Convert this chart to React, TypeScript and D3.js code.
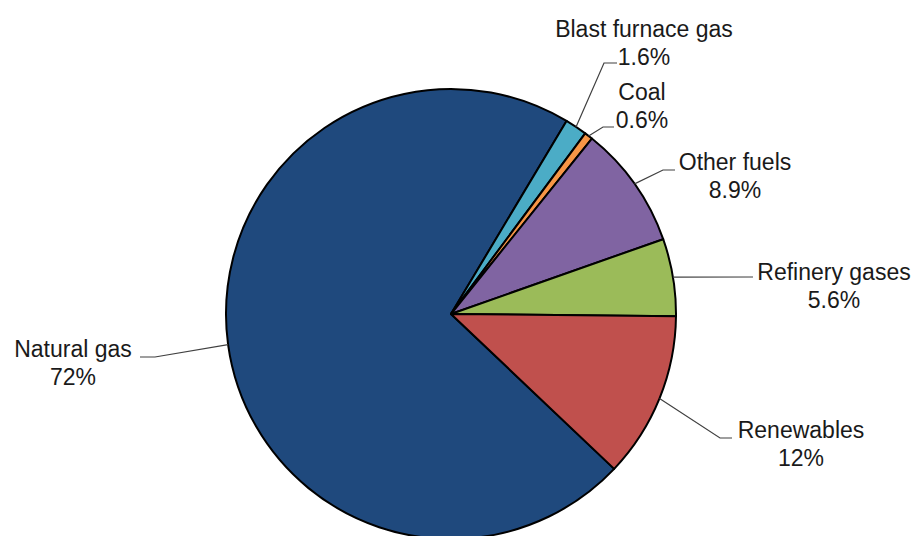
import React from "react";
import * as d3 from "d3";

const categories = ["Natural gas", "Blast furnace gas", "Coal", "Other fuels", "Refinery gases", "Renewables"];
const values = [72, 1.6, 0.6, 8.9, 5.6, 12];
const valueLabels = ["72%", "1.6%", "0.6%", "8.9%", "5.6%", "12%"];
const colors = ["#1F497D", "#4BACC6", "#F79646", "#8064A2", "#9BBB59", "#C0504D"];

// label layout: text center x, first baseline y, leader elbow and end points
const labelLayout = [
  { tx: 73, ty: 357, elbow: [155, 357], end: [140, 357] },
  { tx: 644, ty: 37, elbow: [604, 63], end: [617, 63] },
  { tx: 642, ty: 100, elbow: [603, 127], end: [614, 127] },
  { tx: 735, ty: 170, elbow: [663, 170], end: [675, 170] },
  { tx: 834, ty: 280, elbow: [753, 277], end: [753, 277] },
  { tx: 801, ty: 438, elbow: [720, 438], end: [732, 438] },
];

const W = 914, H = 536;
const cx = 451, cy = 314, R = 225;
const startDeg = 133.5;

export default function App() {
  const pie = d3
    .pie<number>()
    .sort(null)
    .value((d) => d)
    .startAngle((startDeg * Math.PI) / 180)
    .endAngle((startDeg * Math.PI) / 180 + 2 * Math.PI);
  const arcs = pie(values);
  const arc = d3.arc<d3.PieArcDatum<number>>().innerRadius(0).outerRadius(R);
  const font = "'Liberation Sans', Arial, sans-serif";

  return (
    <svg width={W} height={H} style={{ position: "absolute", left: 0, top: 0, background: "#fff" }}>
      <g transform={`translate(${cx},${cy})`}>
        {arcs.map((a, i) => (
          <path key={i} d={arc(a) || ""} fill={colors[i]} stroke="#000" strokeWidth={2} strokeLinejoin="round" />
        ))}
      </g>
      {arcs.map((a, i) => {
        const mid = (a.startAngle + a.endAngle) / 2;
        const px = cx + R * Math.sin(mid);
        const py = cy - R * Math.cos(mid);
        const L = labelLayout[i];
        const line = d3.line()([[px, py], L.elbow as [number, number], L.end as [number, number]]);
        return (
          <g key={"l" + i}>
            <path d={line || ""} fill="none" stroke="#404040" strokeWidth={1.2} />
            <text x={L.tx} y={L.ty} textAnchor="middle" fontFamily={font} fontSize={23} fill="#1a1a1a">
              {categories[i]}
            </text>
            <text x={L.tx} y={L.ty + 27.5} textAnchor="middle" fontFamily={font} fontSize={23} fill="#1a1a1a">
              {valueLabels[i]}
            </text>
          </g>
        );
      })}
    </svg>
  );
}
